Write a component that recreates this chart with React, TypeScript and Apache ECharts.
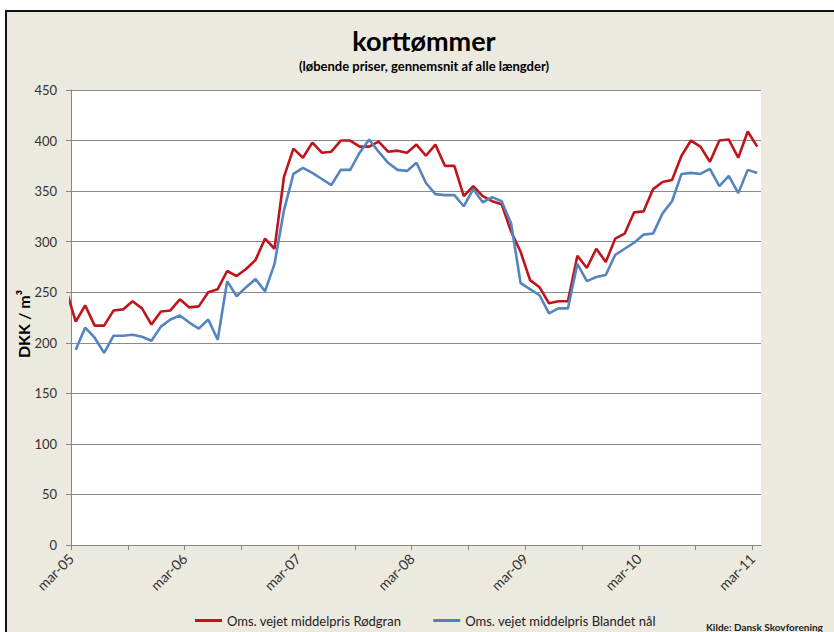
import React, { useEffect, useRef } from "react";
import * as echarts from "echarts";

// Monthly observations, first = feb-05, last = mar-11 (mid-month points)
const firstMonthOffset = -0.5; // feb-05 midpoint, in months from start of mar-05
const redName = "Oms. vejet middelpris Rødgran";
const blueName = "Oms. vejet middelpris Blandet nål";

const redValues: (number | null)[] = [
  252, 221, 237, 217, 217, 232, 233, 241, 234, 218, 231, 232,
  243, 235, 236, 250, 253, 271, 266, 273, 282, 303, 293, 364,
  392, 383, 398, 388, 389, 400, 400, 394, 394, 399, 389, 390,
  388, 396, 385, 396, 375, 375, 345, 355, 345, 340, 337, 310,
  290, 262, 255, 239, 241, 241, 286, 274, 293, 280, 303, 308,
  329, 330, 352, 359, 361, 385, 400, 394, 379, 400, 401, 383,
  409, 394,
];

const blueValues: (number | null)[] = [
  null, 193, 215, 205, 190, 207, 207, 208, 206, 202, 216, 223,
  227, 220, 214, 223, 203, 261, 246, 255, 263, 251, 278, 331,
  367, 373, 368, 362, 356, 371, 371, 388, 401, 389, 378, 371,
  370, 378, 358, 347, 346, 346, 335, 352, 339, 344, 340, 318,
  259, 253, 247, 229, 234, 234, 278, 261, 265, 267, 287, 293,
  299, 307, 308, 328, 340, 367, 368, 367, 372, 355, 365, 348,
  371, 368,
];

const xTickLabels = ["mar-05", "mar-06", "mar-07", "mar-08", "mar-09", "mar-10", "mar-11"];
const xMinorTickStep = 6;
const xLabelStep = 12;
const yTicks = [0, 50, 100, 150, 200, 250, 300, 350, 400, 450];

const FONT = "Lato, 'Open Sans', 'Noto Sans', sans-serif";

function toPairs(values: (number | null)[]) {
  const out: [number, number][] = [];
  values.forEach((v, i) => {
    if (v !== null) out.push([i + firstMonthOffset, v]);
  });
  return out;
}

export default function App() {
  const ref = useRef<HTMLDivElement>(null);

  useEffect(() => {
    if (!ref.current) return;
    const chart = echarts.init(ref.current, null, { renderer: "svg" });
    const xMax = (xTickLabels.length - 1) * xLabelStep;
    const tickVals: number[] = [];
    for (let v = 0; v <= xMax; v += xMinorTickStep) tickVals.push(v);
    const labelVals = xTickLabels.map((_, i) => i * xLabelStep);

    chart.setOption({
      animation: false,
      backgroundColor: "transparent",
      textStyle: { fontFamily: FONT },
      grid: {
        left: 71,
        right: 73,
        top: 90,
        bottom: 87,
        containLabel: false,
        outerBoundsMode: "none",
        show: true,
        backgroundColor: "#ffffff",
        borderWidth: 0,
      },
      legend: {
        left: 190,
        top: 609,
        icon: "rect",
        itemWidth: 27,
        itemHeight: 3,
        itemGap: 32,
        textStyle: { fontFamily: FONT, fontSize: 13, color: "#222" },
        data: [redName, blueName],
      },
      xAxis: {
        type: "value",
        min: 0,
        max: 72.9,
        splitLine: { show: false },
        axisLine: { show: true, onZero: false, lineStyle: { color: "#868686", width: 1 } },
        axisTick: {
          show: true,
          length: 5,
          customValues: tickVals,
          lineStyle: { color: "#868686" },
        },
        axisLabel: {
          customValues: labelVals,
          rotate: 45,
          margin: 11,
          fontSize: 14,
          fontFamily: FONT,
          color: "#333",
          formatter: (v: number) => {
            const idx = Math.round(v / xLabelStep);
            return Math.abs(v - idx * xLabelStep) < 1e-6 ? xTickLabels[idx] ?? "" : "";
          },
        },
      },
      yAxis: {
        type: "value",
        min: yTicks[0],
        max: yTicks[yTicks.length - 1],
        interval: yTicks[1] - yTicks[0],
        axisLine: { show: true, lineStyle: { color: "#868686", width: 1 } },
        axisTick: { show: true, length: 5, lineStyle: { color: "#868686" } },
        splitLine: { show: true, lineStyle: { color: "#8a8a8a", width: 1 } },
        axisLabel: { fontSize: 13, margin: 14, fontFamily: FONT, color: "#333" },
      },
      series: [
        {
          name: redName,
          type: "line",
          data: toPairs(redValues),
          showSymbol: false,
          clip: true,
          color: "#C0141C",
          lineStyle: { color: "#C0141C", width: 2.6 },
        },
        {
          name: blueName,
          type: "line",
          data: toPairs(blueValues),
          showSymbol: false,
          clip: true,
          color: "#4F81BD",
          lineStyle: { color: "#5585BE", width: 2.6 },
        },
      ],
      graphic: [
        {
          type: "text",
          x: 424,
          y: 40,
          style: {
            text: "korttømmer",
            font: `bold 27px ${FONT}`,
            fill: "#000",
            align: "center",
            verticalAlign: "middle",
          },
        },
        {
          type: "text",
          x: 424,
          y: 66,
          style: {
            text: "(løbende priser, gennemsnit af alle længder)",
            font: `bold 13px ${FONT}`,
            fill: "#000",
            align: "center",
            verticalAlign: "middle",
          },
        },
        {
          type: "text",
          x: 23,
          y: 324,
          rotation: Math.PI / 2,
          style: {
            text: "DKK / m³",
            font: `bold 16px ${FONT}`,
            fill: "#000",
            align: "center",
            verticalAlign: "middle",
          },
        },
        {
          type: "text",
          x: 706,
          y: 627,
          style: {
            text: "Kilde: Dansk Skovforening",
            font: `bold 10px ${FONT}`,
            fill: "#222",
            align: "left",
            verticalAlign: "middle",
          },
        },
      ],
    });
    return () => chart.dispose();
  }, []);

  return (
    <div
      style={{
        position: "absolute",
        left: 0,
        top: 0,
        width: 834,
        height: 632,
        overflow: "hidden",
        background: "#ffffff",
      }}
    >
      <div
        style={{
          position: "absolute",
          left: 5,
          top: 10,
          width: 900,
          height: 700,
          border: "2px solid #111",
          background: "#ECE9DF",
        }}
      />
      <div ref={ref} style={{ position: "absolute", left: 0, top: 0, width: 834, height: 632 }} />
    </div>
  );
}
